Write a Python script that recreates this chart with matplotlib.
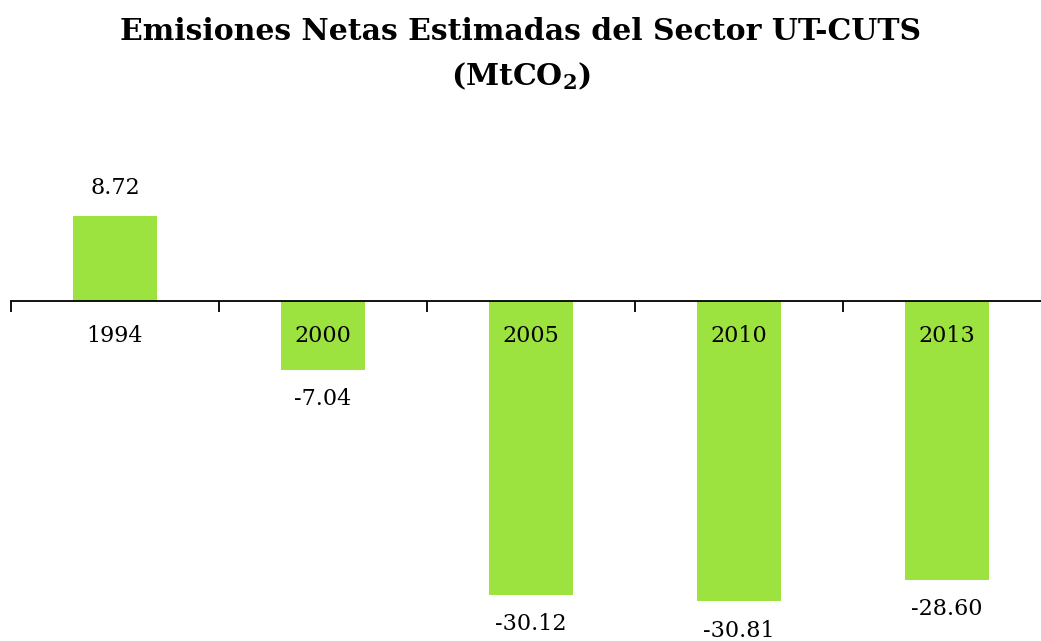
import matplotlib
matplotlib.use("Agg")
import matplotlib.pyplot as plt
import numpy as np

years = ["1994", "2000", "2005", "2010", "2013"]
values = [8.72, -7.04, -30.12, -30.81, -28.60]
value_labels = ["8.72", "-7.04", "-30.12", "-30.81", "-28.60"]

bar_color = "#9de33f"

plt.rcParams["mathtext.fontset"] = "dejavuserif"

fig = plt.figure(figsize=(10.41, 6.41), dpi=100)
W, H = 1041, 641
ax = fig.add_axes([11 / W, 0, 1040 / W, (641 - 130) / H])

x = np.arange(len(years))
ax.bar(x, values, width=0.4, color=bar_color, zorder=2)
ax.set_axisbelow(False)

ax.set_xlim(-0.5, len(years) - 0.5)
ax.set_ylim(-(641 - 301) / 9.75, (301 - 130) / 9.75)

for s in ["top", "right", "left"]:
    ax.spines[s].set_visible(False)
ax.spines["bottom"].set_position(("data", 0))
ax.spines["bottom"].set_linewidth(1.3)
ax.spines["bottom"].set_zorder(3)
ax.set_yticks([])

ax.set_xticks(x)
ax.set_xticklabels(years, fontsize=16, family="DejaVu Serif")
ax.tick_params(axis="x", which="major", length=0, pad=17)
ax.set_xticks(np.arange(-0.5, len(years), 1.0), minor=True)
ax.tick_params(axis="x", which="minor", length=8, width=1.3, direction="out")

for xi, v, lab in zip(x, values, value_labels):
    off = 20 if v > 0 else -21
    ax.annotate(lab, (xi, v), xytext=(0, off), textcoords="offset points",
                ha="center", va="center", fontsize=16, family="DejaVu Serif",
                annotation_clip=False)

fig.text(0.5, 1 - 31 / H, "Emisiones Netas Estimadas del Sector UT-CUTS",
         ha="center", va="center", fontsize=21.5, fontweight="bold",
         family="DejaVu Serif")
fig.text(0.5, 1 - 76 / H, r"$\mathbf{(MtCO_2)}$",
         ha="center", va="center", fontsize=21.5)

fig.savefig("out.png", dpi=100)
